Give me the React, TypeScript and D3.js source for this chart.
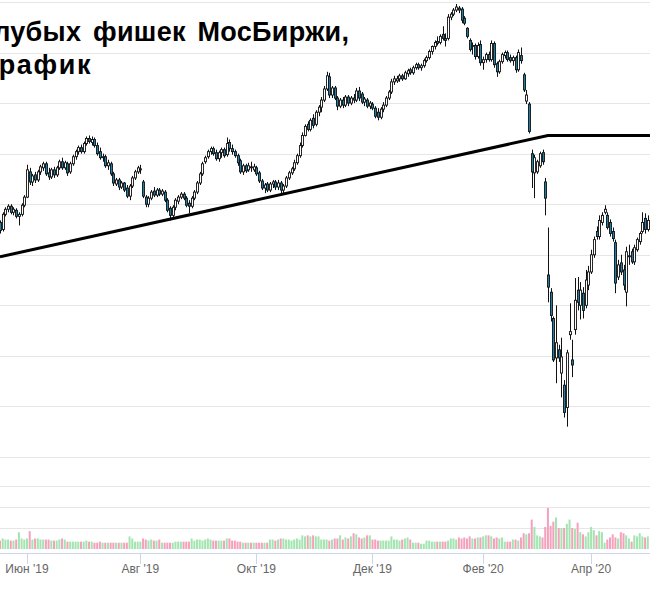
import * as d3 from "d3";

// daily candles, May 20 2019 .. Apr 30 2020 (trading-day index)
const opens = [
  2782, 2775, 2790, 2795, 2798, 2792, 2794, 2788, 2790, 2799,
  2807, 2832, 2822, 2829, 2824, 2832, 2836, 2840, 2831, 2827,
  2834, 2829, 2836, 2842, 2836, 2840, 2832, 2840, 2847, 2852,
  2856, 2852, 2860, 2865, 2861, 2864, 2858, 2852, 2846, 2847,
  2838, 2840, 2830, 2820, 2824, 2817, 2821, 2816, 2808, 2818,
  2826, 2832, 2834, 2822, 2807, 2800, 2806, 2813, 2809, 2814,
  2810, 2812, 2804, 2796, 2789, 2797, 2803, 2807, 2810, 2806,
  2801, 2798, 2806, 2812, 2821, 2830, 2842, 2847, 2852, 2855,
  2851, 2845, 2851, 2854, 2849, 2861, 2855, 2852, 2848, 2843,
  2832, 2838, 2834, 2837, 2834, 2836, 2831, 2823, 2816, 2820,
  2814, 2820, 2822, 2817, 2821, 2814, 2818, 2826, 2831, 2835,
  2841, 2848, 2858, 2868, 2879, 2874, 2885, 2879, 2891, 2896,
  2903, 2914, 2926, 2908, 2915, 2905, 2897, 2903, 2898, 2906,
  2900, 2905, 2903, 2912, 2909, 2901, 2903, 2897, 2899, 2895,
  2891, 2886, 2894, 2898, 2905, 2911, 2921, 2922, 2924, 2927,
  2924, 2929, 2933, 2930, 2935, 2938, 2935, 2937, 2942, 2945,
  2951, 2956, 2961, 2960, 2968, 2964, 2964, 2985, 2988, 2992,
  2994, 2993, 2984, 2974, 2962, 2956, 2957, 2946, 2958, 2940,
  2943, 2948, 2943, 2959, 2939, 2931, 2941, 2947, 2950, 2945,
  2942, 2945, 2933, 2947, 2928, 2902, 2899, 2850, 2831, 2832,
  2838, 2851, 2822, 2730, 2713, 2687, 2648, 2656, 2633, 2621,
  2599, 2671, 2646, 2676, 2715, 2700, 2712, 2700, 2720, 2733,
  2750, 2773, 2768, 2782, 2792, 2789, 2782, 2773, 2762, 2728,
  2742, 2735, 2713, 2748, 2753, 2743, 2755, 2763, 2773, 2786, 2775,
];
const highs = [
  2784, 2792, 2797, 2800, 2800, 2797, 2796, 2792, 2801, 2809,
  2839, 2836, 2830, 2832, 2834, 2839, 2842, 2842, 2836, 2836,
  2837, 2838, 2844, 2846, 2843, 2842, 2842, 2849, 2854, 2858,
  2859, 2862, 2867, 2868, 2867, 2866, 2861, 2856, 2850, 2849,
  2844, 2842, 2832, 2826, 2826, 2823, 2822, 2819, 2820, 2828,
  2834, 2838, 2839, 2824, 2809, 2808, 2814, 2817, 2816, 2816,
  2815, 2814, 2806, 2798, 2799, 2806, 2809, 2812, 2812, 2808,
  2804, 2808, 2814, 2823, 2832, 2842, 2848, 2854, 2857, 2857,
  2854, 2853, 2856, 2856, 2866, 2864, 2859, 2854, 2850, 2845,
  2840, 2840, 2841, 2842, 2840, 2838, 2833, 2825, 2821, 2822,
  2822, 2824, 2824, 2824, 2823, 2820, 2828, 2833, 2837, 2844,
  2850, 2861, 2871, 2879, 2882, 2885, 2889, 2893, 2898, 2906,
  2917, 2931, 2930, 2917, 2917, 2907, 2905, 2906, 2908, 2908,
  2907, 2909, 2915, 2916, 2911, 2906, 2905, 2902, 2901, 2897,
  2895, 2896, 2901, 2907, 2913, 2924, 2927, 2927, 2929, 2929,
  2932, 2934, 2935, 2937, 2940, 2940, 2939, 2944, 2947, 2953,
  2957, 2962, 2966, 2968, 2976, 2969, 2988, 2990, 2994, 2998,
  2996, 2995, 2986, 2975, 2964, 2960, 2959, 2960, 2962, 2946,
  2950, 2951, 2962, 2961, 2941, 2943, 2950, 2952, 2952, 2948,
  2947, 2947, 2953, 2955, 2930, 2913, 2901, 2854, 2849, 2844,
  2852, 2854, 2826, 2777, 2717, 2689, 2700, 2661, 2668, 2626,
  2656, 2702, 2666, 2727, 2728, 2723, 2718, 2735, 2739, 2755,
  2768, 2778, 2789, 2792, 2799, 2792, 2785, 2777, 2765, 2745,
  2750, 2740, 2758, 2760, 2756, 2760, 2767, 2773, 2792, 2791, 2789,
];
const lows = [
  2771, 2773, 2788, 2792, 2790, 2789, 2786, 2779, 2788, 2797,
  2806, 2819, 2818, 2821, 2822, 2829, 2833, 2828, 2824, 2825,
  2826, 2827, 2834, 2834, 2834, 2828, 2830, 2838, 2844, 2849,
  2850, 2850, 2858, 2860, 2858, 2856, 2848, 2844, 2842, 2836,
  2834, 2828, 2818, 2818, 2814, 2815, 2812, 2806, 2804, 2816,
  2824, 2830, 2830, 2806, 2797, 2797, 2804, 2807, 2807, 2808,
  2808, 2802, 2792, 2784, 2786, 2794, 2800, 2805, 2804, 2797,
  2791, 2796, 2804, 2810, 2819, 2828, 2840, 2845, 2849, 2848,
  2843, 2842, 2846, 2846, 2847, 2852, 2849, 2846, 2838, 2830,
  2829, 2831, 2832, 2832, 2832, 2828, 2821, 2814, 2811, 2812,
  2812, 2816, 2814, 2814, 2811, 2811, 2816, 2824, 2829, 2833,
  2839, 2846, 2856, 2867, 2872, 2872, 2875, 2877, 2887, 2891,
  2901, 2912, 2905, 2905, 2903, 2893, 2895, 2895, 2896, 2897,
  2898, 2900, 2901, 2902, 2899, 2897, 2895, 2894, 2893, 2885,
  2883, 2884, 2891, 2896, 2903, 2909, 2918, 2920, 2921, 2922,
  2923, 2926, 2928, 2928, 2933, 2933, 2932, 2935, 2940, 2943,
  2948, 2953, 2957, 2958, 2962, 2956, 2962, 2982, 2986, 2990,
  2989, 2979, 2977, 2964, 2951, 2948, 2943, 2944, 2937, 2933,
  2940, 2941, 2941, 2935, 2926, 2929, 2939, 2944, 2941, 2940,
  2937, 2930, 2931, 2939, 2911, 2899, 2870, 2816, 2806, 2830,
  2836, 2839, 2789, 2703, 2684, 2644, 2623, 2644, 2609, 2589,
  2580, 2666, 2629, 2671, 2695, 2686, 2687, 2697, 2715, 2731,
  2747, 2765, 2765, 2779, 2790, 2775, 2768, 2763, 2712, 2725,
  2730, 2715, 2699, 2740, 2741, 2740, 2753, 2760, 2771, 2771, 2773,
];
const closes = [
  2774, 2790, 2795, 2798, 2792, 2795, 2788, 2790, 2799, 2807,
  2834, 2822, 2828, 2824, 2832, 2837, 2840, 2830, 2827, 2834,
  2829, 2836, 2842, 2836, 2841, 2831, 2840, 2847, 2852, 2856,
  2852, 2860, 2865, 2862, 2864, 2858, 2850, 2846, 2847, 2838,
  2841, 2830, 2821, 2824, 2817, 2821, 2814, 2808, 2818, 2826,
  2832, 2836, 2835, 2808, 2800, 2806, 2812, 2809, 2814, 2810,
  2813, 2804, 2794, 2789, 2797, 2804, 2807, 2810, 2806, 2799,
  2798, 2806, 2812, 2821, 2830, 2840, 2846, 2852, 2855, 2850,
  2845, 2851, 2854, 2848, 2860, 2855, 2852, 2848, 2841, 2832,
  2838, 2833, 2838, 2836, 2837, 2830, 2823, 2816, 2819, 2814,
  2820, 2822, 2817, 2821, 2814, 2818, 2826, 2831, 2835, 2841,
  2848, 2858, 2868, 2877, 2874, 2883, 2878, 2891, 2896, 2903,
  2914, 2927, 2908, 2915, 2905, 2897, 2903, 2898, 2906, 2900,
  2905, 2903, 2912, 2905, 2901, 2904, 2897, 2900, 2895, 2887,
  2886, 2894, 2898, 2905, 2911, 2921, 2924, 2924, 2927, 2924,
  2930, 2932, 2930, 2935, 2938, 2935, 2937, 2942, 2945, 2951,
  2956, 2960, 2959, 2966, 2964, 2962, 2985, 2988, 2992, 2995,
  2992, 2982, 2979, 2966, 2953, 2957, 2946, 2957, 2940, 2943,
  2948, 2943, 2959, 2938, 2931, 2941, 2948, 2950, 2943, 2942,
  2945, 2933, 2950, 2942, 2913, 2908, 2872, 2832, 2846, 2842,
  2850, 2842, 2806, 2718, 2690, 2646, 2663, 2648, 2649, 2594,
  2653, 2674, 2641, 2705, 2703, 2715, 2695, 2725, 2733, 2750,
  2765, 2768, 2784, 2789, 2795, 2777, 2771, 2766, 2722, 2740,
  2733, 2720, 2753, 2749, 2743, 2757, 2765, 2771, 2782, 2775, 2784,
];
const volumes = [
  8, 10, 9, 9, 8, 8, 9, 16, 10, 9,
  10, 17, 9, 10, 10, 9, 9, 9, 9, 8,
  8, 8, 9, 10, 9, 7, 7, 7, 7, 7,
  7, 7, 8, 7, 7, 6, 6, 7, 6, 6,
  6, 6, 6, 6, 6, 6, 6, 6, 12, 10,
  7, 7, 7, 10, 9, 8, 9, 8, 8, 9,
  6, 6, 6, 6, 6, 7, 7, 7, 7, 7,
  7, 10, 8, 9, 9, 8, 9, 10, 9, 8,
  8, 8, 8, 8, 10, 10, 8, 8, 7, 7,
  6, 6, 6, 6, 6, 6, 6, 6, 6, 6,
  9, 9, 8, 9, 10, 10, 9, 9, 8, 9,
  10, 9, 13, 12, 13, 12, 13, 12, 12, 9,
  9, 9, 8, 9, 10, 10, 13, 9, 11, 10,
  12, 15, 14, 11, 10, 11, 13, 13, 9, 9,
  8, 8, 8, 8, 8, 12, 9, 9, 8, 9,
  10, 11, 9, 6, 6, 6, 5, 5, 8, 8,
  7, 7, 7, 7, 7, 7, 8, 10, 10, 9,
  11, 10, 11, 10, 12, 10, 10, 11, 11, 12,
  13, 13, 12, 10, 11, 10, 11, 7, 7, 7,
  9, 9, 8, 11, 15, 14, 15, 28, 21, 13,
  12, 11, 21, 39, 22, 26, 30, 20, 20, 20,
  24, 28, 20, 19, 25, 16, 14, 12, 16, 21,
  18, 13, 17, 16, 6, 9, 11, 14, 11, 10,
  16, 15, 13, 10, 7, 13, 12, 15, 12, 11, 12,
];

const tickLabels = ["Июн '19", "Авг '19", "Окт '19", "Дек '19", "Фев '20", "Апр '20"];
const tickIndex = [10, 52, 95, 138, 179, 219];
const priceGrid = [2550, 2600, 2650, 2700, 2750, 2800, 2850, 2900, 2950, 3000];
const volumeGrid = [20, 40, 60];
const trendIndex = [0, 203, 241];
const trendPrice = [2748, 2868, 2868];
const titleLines = ["Индекс голубых фишек МосБиржи,", "дневной график"];

export default function App() {
  const n = closes.length;
  const x = d3.scaleLinear().domain([0, n - 1]).range([0, 647.8]);
  const y = d3.scaleLinear().domain([2550, 3000]).range([457, 2]);
  const yv = d3.scaleLinear().domain([0, 60]).range([549, 486]);

  const trend = d3
    .line<number>()
    .x((d) => x(d))
    .y((_, i) => y(trendPrice[i]));

  const upFill = "#ffffff";
  const downFill = "#1b7fa8";

  return (
    <>
      <style>{"body{margin:0}"}</style>
      <svg width={650} height={600} style={{ display: "block" }} fontFamily="'Liberation Sans', Arial, sans-serif">
        <rect width={650} height={600} fill="#fff" />
        {priceGrid.map((p) => (
          <line key={"g" + p} x1={0} x2={650} y1={Math.round(y(p)) + 0.5} y2={Math.round(y(p)) + 0.5} stroke="#e6e6e6" />
        ))}
        {volumeGrid.map((v) => (
          <line key={"v" + v} x1={0} x2={650} y1={Math.round(yv(v)) + 0.5} y2={Math.round(yv(v)) + 0.5} stroke="#e6e6e6" />
        ))}

        <g fontWeight="bold" fontSize={27} fill="#000" textAnchor="end">
          <text x={349.3} y={41} wordSpacing={4} letterSpacing={0.3}>{titleLines[0]}</text>
          <text x={92} y={74} letterSpacing={1.6}>{titleLines[1]}</text>
        </g>

        {volumes.map((v, i) => (
          <rect
            key={"vol" + i}
            x={x(i) - 1}
            width={2}
            y={yv(v)}
            height={yv(0) - yv(v)}
            fill={closes[i] >= opens[i] ? "#a3e4b0" : "#f5a0bc"}
          />
        ))}

        {closes.map((c, i) => {
          const o = opens[i];
          const cx = Math.round(x(i)) + 0.5;
          const top = y(Math.max(o, c));
          const bot = y(Math.min(o, c));
          return (
            <g key={"c" + i}>
              <line x1={cx} x2={cx} y1={y(highs[i])} y2={y(lows[i])} stroke="#111" strokeWidth={1} />
              <rect
                x={cx - 1}
                width={2}
                y={top}
                height={Math.max(1, bot - top)}
                fill={c >= o ? upFill : downFill}
                stroke="#111"
                strokeWidth={0.9}
              />
            </g>
          );
        })}

        <path d={trend(trendIndex) || ""} fill="none" stroke="#000" strokeWidth={3} />

        <line x1={0} x2={650} y1={553.5} y2={553.5} stroke="#ccd6eb" />
        {tickIndex.map((t, k) => (
          <g key={"t" + k}>
            <line x1={Math.round(x(t)) + 0.5} x2={Math.round(x(t)) + 0.5} y1={554} y2={564} stroke="#ccd6eb" />
            <text x={x(t)} y={573} textAnchor="middle" fontSize={12} fill="#666">
              {tickLabels[k]}
            </text>
          </g>
        ))}
      </svg>
    </>
  );
}
